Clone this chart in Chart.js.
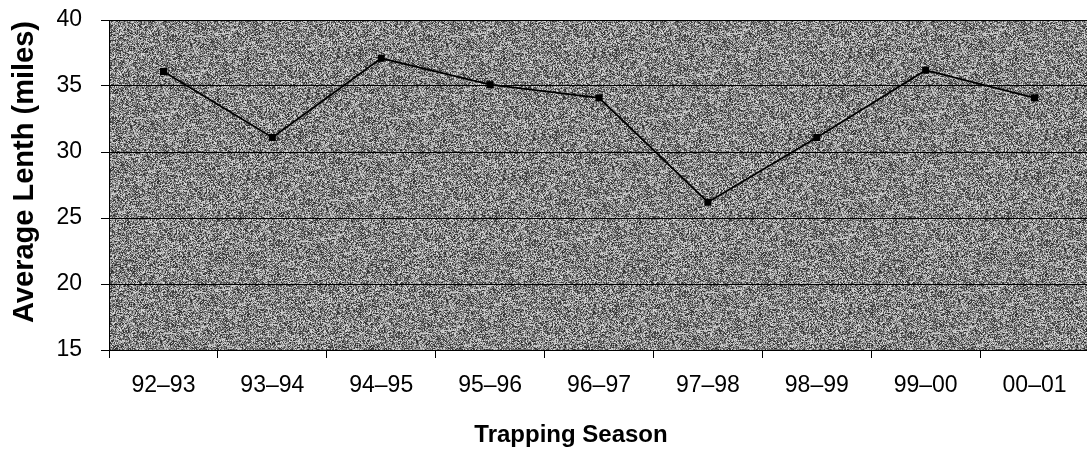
<!DOCTYPE html>
<html>
<head>
<meta charset="utf-8">
<script src="https://cdn.jsdelivr.net/npm/chart.js@4"></script>
<style>
    html, body { margin: 0; padding: 0; background: #ffffff; overflow: hidden; }
    #wrap { width: 1094px; height: 454px; }
</style>
</head>
<body>
<div id="wrap"><canvas id="lengthChart" width="1094" height="454"></canvas></div>
<script>
// --- Chart data ---
const seasons = ['92–93', '93–94', '94–95', '95–96', '96–97', '97–98', '98–99', '99–00', '00–01'];
const avgLength = [36.1, 31.1, 37.1, 35.1, 34.1, 26.2, 31.1, 36.2, 34.1];
const yTicks = [15, 20, 25, 30, 35, 40];

const yTitle = 'Average Lenth (miles)';
const xTitle = 'Trapping Season';
const fontFamily = "'Liberation Sans', Arial, sans-serif";

/**
 * Speckled grey fill for the plot area (deterministic hash, not data).
 */
function makeSpecklePattern() {
    const size = 256;
    const c = document.createElement('canvas');
    c.width = size;
    c.height = size;
    const g = c.getContext('2d');
    const img = g.createImageData(size, size);
    let s = 1234567;
    for (let i = 0; i < size * size; i++) {
        s = (s * 1103515245 + 12345) & 0x7fffffff;
        const v = (s >> 8) & 255;
        const grey = Math.round(40 + v * 0.72);
        img.data[i * 4] = grey;
        img.data[i * 4 + 1] = grey;
        img.data[i * 4 + 2] = grey;
        img.data[i * 4 + 3] = 255;
    }
    g.putImageData(img, 0, 0);
    return g.createPattern(c, 'repeat');
}

const plotBackground = {
    id: 'plotBackground',
    beforeDraw(chart) {
        const { ctx, chartArea } = chart;
        ctx.save();
        ctx.fillStyle = makeSpecklePattern();
        ctx.fillRect(chartArea.left, chartArea.top, chartArea.right - chartArea.left, chartArea.bottom - chartArea.top);
        ctx.restore();
    }
};

// Axis titles are drawn by hand so they sit where the original puts them
const axisTitles = {
    id: 'axisTitles',
    afterDraw(chart) {
        const { ctx } = chart;
        ctx.save();
        ctx.fillStyle = '#000000';
        ctx.textAlign = 'center';
        ctx.textBaseline = 'middle';
        ctx.font = `bold 24px ${fontFamily}`;
        ctx.fillText(xTitle, 571, 435);
        ctx.translate(25, 172);
        ctx.rotate(-Math.PI / 2);
        ctx.font = `bold 29px ${fontFamily}`;
        ctx.fillText(yTitle, 0, 0);
        ctx.restore();
    }
};

const ctx = document.getElementById('lengthChart').getContext('2d');
new Chart(ctx, {
    type: 'line',
    data: {
        labels: seasons,
        datasets: [{
            label: 'Average Length',
            data: avgLength,
            borderColor: '#000000',
            backgroundColor: '#000000',
            borderWidth: 1.8,
            pointStyle: 'rect',
            pointRadius: 5,
            pointBorderWidth: 0,
            tension: 0,
            fill: false
        }]
    },
    options: {
        responsive: false,
        devicePixelRatio: 1,
        animation: false,
        layout: { padding: { top: 20, left: 0, right: 0, bottom: 0 } },
        plugins: {
            legend: { display: false },
            tooltip: { enabled: false }
        },
        scales: {
            x: {
                offset: true,
                afterFit: scale => { scale.height = 104; },
                grid: {
                    offset: true,
                    drawOnChartArea: false,
                    color: '#000000',
                    tickLength: 8
                },
                border: { color: '#000000', width: 1 },
                ticks: {
                    color: '#000000',
                    padding: 14,
                    maxRotation: 0,
                    font: { size: 23, family: fontFamily }
                }
            },
            y: {
                min: 15,
                max: 40,
                afterFit: scale => {
                    scale.width = 109;
                    scale.paddingTop = 0;
                    scale.paddingBottom = 0;
                },
                afterBuildTicks: scale => { scale.ticks = yTicks.map(v => ({ value: v })); },
                grid: {
                    color: '#000000',
                    lineWidth: 1,
                    tickLength: 8
                },
                border: { color: '#000000', width: 1 },
                ticks: {
                    color: '#000000',
                    padding: 19,
                    font: { size: 23, family: fontFamily }
                }
            }
        }
    },
    plugins: [plotBackground, axisTitles]
});
</script>
</body>
</html>
